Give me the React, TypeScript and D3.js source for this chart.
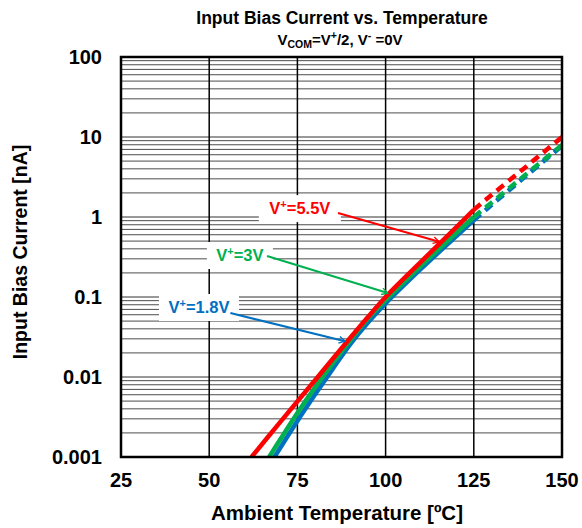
import React from "react";
import * as d3 from "d3";

const W = 582, H = 528;
const M = { left: 121, right: 562, top: 57, bottom: 457 };

const xTicks = [25, 50, 75, 100, 125, 150];
const yTicks = [0.001, 0.01, 0.1, 1, 10, 100];
const yTickLabels = ["0.001", "0.01", "0.1", "1", "10", "100"];

const redT = [62, 70, 80, 90, 95, 100, 110, 120, 125];
const redV = [0.001, 0.00269, 0.00912, 0.0309, 0.0562, 0.1, 0.275, 0.741, 1.23];
const redDT = [125, 130, 140, 150];
const redDV = [1.23, 1.88, 4.32, 10];

const greenT = [67, 70, 75, 80, 85, 90, 95, 100, 110, 120, 125];
const greenV = [0.001, 0.00162, 0.00355, 0.00741, 0.0148, 0.0288, 0.0537, 0.0912, 0.245, 0.631, 1.0];
const greenDT = [125, 130, 140, 150];
const greenDV = [1.0, 1.51, 3.47, 7.94];

const blueT = [68.5, 75, 80, 85, 90, 95, 100, 110, 120, 125];
const blueV = [0.001, 0.00282, 0.00603, 0.0126, 0.0257, 0.0479, 0.0832, 0.224, 0.575, 0.912];
const blueDT = [125, 130, 140, 150];
const blueDV = [0.912, 1.41, 3.31, 7.76];

const seriesColors = { red: "#FF0000", green: "#00B050", blue: "#0070C0" };

// annotations in data space: label centre, arrow start, arrow tip
const annots = [
  { key: "blue", volt: "1.8V", lx: 47.1, ly: 0.075, bw: 80, sx: 56, sy: 0.063, ex: 88.5, ey: 0.028 },
  { key: "green", volt: "3V", lx: 58.7, ly: 0.335, bw: 66, sx: 66.4, sy: 0.326, ex: 100.6, ey: 0.112 },
  { key: "red", volt: "5.5V", lx: 75.7, ly: 1.29, bw: 82, sx: 86.5, sy: 1.12, ex: 115.2, ey: 0.49 },
];

export default function App() {
  const x = d3.scaleLinear().domain([25, 150]).range([M.left, M.right]);
  const y = d3.scaleLog().domain([0.001, 100]).range([M.bottom, M.top]);
  const line = d3
    .line<[number, number]>()
    .x((d) => x(d[0]))
    .y((d) => y(d[1]))
    .curve(d3.curveCatmullRom.alpha(0.5));
  const zip = (a: number[], b: number[]) => a.map((t, i) => [t, b[i]] as [number, number]);

  const minor: number[] = [];
  for (let e = -3; e < 2; e++) for (let k = 2; k <= 9; k++) minor.push(k * Math.pow(10, e));

  const series = [
    { key: "blue", s: zip(blueT, blueV), d: zip(blueDT, blueDV) },
    { key: "green", s: zip(greenT, greenV), d: zip(greenDT, greenDV) },
    { key: "red", s: zip(redT, redV), d: zip(redDT, redDV) },
  ];
  const font = "'Liberation Sans', Arial, sans-serif";

  return (
    <svg width={W} height={H} style={{ position: "absolute", left: 0, top: 0, fontFamily: font }}>
      <defs>
        {Object.entries(seriesColors).map(([k, c]) => (
          <marker key={k} id={"arr-" + k} viewBox="0 0 12 12" refX="10" refY="6" markerWidth="8" markerHeight="8" orient="auto" markerUnits="userSpaceOnUse">
            <path d="M1,1 L10,6 L1,11" fill="none" stroke={c} strokeWidth={2} />
          </marker>
        ))}
        <clipPath id="plotclip">
          <rect x={M.left} y={M.top} width={M.right - M.left} height={M.bottom - M.top} />
        </clipPath>
      </defs>
      <rect width={W} height={H} fill="white" />
      {minor.map((v, i) => (
        <line key={"m" + i} x1={M.left} x2={M.right} y1={y(v)} y2={y(v)} stroke="#4d4d4d" strokeWidth={1} />
      ))}
      {yTicks.map((v, i) => (
        <line key={"M" + i} x1={M.left} x2={M.right} y1={y(v)} y2={y(v)} stroke="#333" strokeWidth={1} />
      ))}
      {xTicks.map((v, i) => (
        <line key={"v" + i} x1={x(v)} x2={x(v)} y1={M.top} y2={M.bottom} stroke="#000" strokeWidth={1.5} />
      ))}
      <g clipPath="url(#plotclip)">
        {series.map((s) => (
          <g key={s.key}>
            <path d={line(s.s) || ""} fill="none" stroke={(seriesColors as any)[s.key]} strokeWidth={4.5} />
            <path d={line(s.d) || ""} fill="none" stroke={(seriesColors as any)[s.key]} strokeWidth={4.5} strokeDasharray="9 6" />
          </g>
        ))}
      </g>
      {annots.map((a) => {
        const c = (seriesColors as any)[a.key];
        return (
          <g key={a.key}>
            <rect x={x(a.lx) - a.bw / 2} y={y(a.ly) - 13} width={a.bw} height={27} fill="white" />
            <line x1={x(a.sx)} y1={y(a.sy)} x2={x(a.ex)} y2={y(a.ey)} stroke={c} strokeWidth={2} markerEnd={`url(#arr-${a.key})`} />
            <text x={x(a.lx)} y={y(a.ly)} dy="0.36em" textAnchor="middle" fill={c} fontSize={16.5} fontWeight="bold">
              V<tspan dy="-6" fontSize={11}>+</tspan>
              <tspan dy="6">={a.volt}</tspan>
            </text>
          </g>
        );
      })}
      <rect x={M.left} y={M.top} width={M.right - M.left} height={M.bottom - M.top} fill="none" stroke="#000" strokeWidth={2.5} />
      {yTicks.map((v, i) => (
        <text key={"yl" + i} x={102} y={y(v)} dy="0.36em" textAnchor="end" fontSize={20} fontWeight="bold">
          {yTickLabels[i]}
        </text>
      ))}
      {xTicks.map((v, i) => (
        <text key={"xl" + i} x={x(v)} y={480} dy="0.36em" textAnchor="middle" fontSize={20} fontWeight="bold">
          {v}
        </text>
      ))}
      <text x={342} y={24} textAnchor="middle" fontSize={17.5} fontWeight="bold">
        Input Bias Current vs. Temperature
      </text>
      <text x={340} y={45} textAnchor="middle" fontSize={15} fontWeight="bold">
        V<tspan dy="3" fontSize={10.5}>COM</tspan>
        <tspan dy="-3">=V</tspan>
        <tspan dy="-6" fontSize={10.5}>+</tspan>
        <tspan dy="6">/2, V</tspan>
        <tspan dy="-6" fontSize={10.5}>-</tspan>
        <tspan dy="6"> =0V</tspan>
      </text>
      <text x={337} y={520} textAnchor="middle" fontSize={20.5} fontWeight="bold">
        Ambient Temperature [ºC]
      </text>
      <text transform={`translate(27, 252) rotate(-90)`} textAnchor="middle" fontSize={19.5} fontWeight="bold">
        Input Bias Current [nA]
      </text>
    </svg>
  );
}
